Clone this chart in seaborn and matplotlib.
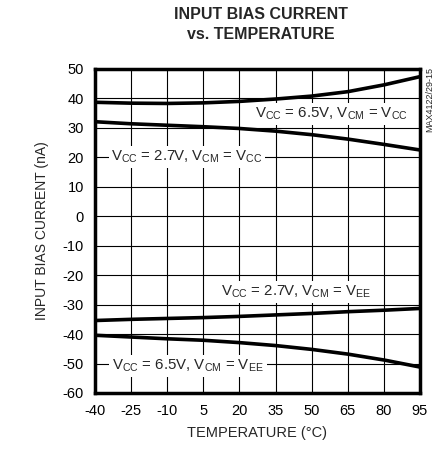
import pandas as pd
import matplotlib.pyplot as plt
import seaborn as sns

# data
temp = [-40, -25, -10, 5, 20, 35, 50, 65, 80, 95]
vcc65_vcm_vcc = [38.7, 38.4, 38.3, 38.5, 39.0, 39.8, 40.8, 42.3, 44.6, 47.4]
vcc27_vcm_vcc = [32.1, 31.4, 30.9, 30.4, 29.8, 28.9, 27.7, 26.2, 24.4, 22.5]
vcc27_vcm_vee = [-35.4, -35.0, -34.7, -34.4, -34.0, -33.5, -33.0, -32.4, -31.9, -31.3]
vcc65_vcm_vee = [-40.4, -41.0, -41.6, -42.1, -42.9, -43.9, -45.2, -46.8, -48.8, -51.2]

x_ticks = [-40, -25, -10, 5, 20, 35, 50, 65, 80, 95]
y_ticks = list(range(-60, 51, 10))

labels = {
    'a': r'$\mathregular{V_{CC}}$ = 6.5V, $\mathregular{V_{CM}}$ = $\mathregular{V_{CC}}$',
    'b': r'$\mathregular{V_{CC}}$ = 2.7V, $\mathregular{V_{CM}}$ = $\mathregular{V_{CC}}$',
    'c': r'$\mathregular{V_{CC}}$ = 2.7V, $\mathregular{V_{CM}}$ = $\mathregular{V_{EE}}$',
    'd': r'$\mathregular{V_{CC}}$ = 6.5V, $\mathregular{V_{CM}}$ = $\mathregular{V_{EE}}$',
}

df = pd.DataFrame({
    'temp': temp * 4,
    'ib': vcc65_vcm_vcc + vcc27_vcm_vcc + vcc27_vcm_vee + vcc65_vcm_vee,
    'curve': ['a'] * 10 + ['b'] * 10 + ['c'] * 10 + ['d'] * 10,
})

sns.set_style('white')
plt.rcParams['font.family'] = ['Liberation Sans', 'DejaVu Sans']
plt.rcParams['axes.unicode_minus'] = False
plt.rcParams['mathtext.fontset'] = 'custom'
plt.rcParams['mathtext.rm'] = 'Liberation Sans'

fig = plt.figure(figsize=(4.39, 4.53), dpi=100)
ax = fig.add_axes([0.2164, 0.1325, 0.7403, 0.7152])

sns.lineplot(data=df, x='temp', y='ib', units='curve', estimator=None,
             color='black', linewidth=2.6, ax=ax, legend=False)

ax.set_xlim(-40, 95)
ax.set_ylim(-60, 50)
ax.set_xticks(x_ticks)
ax.set_yticks(y_ticks)
ax.grid(True, color='black', linewidth=0.8)
ax.tick_params(length=0, labelsize=10.5, colors='black', pad=8)
for s in ax.spines.values():
    s.set_linewidth(2.5)
    s.set_color('black')

ax.set_xlabel('TEMPERATURE (°C)', fontsize=10.5, labelpad=6)
ax.set_ylabel('INPUT BIAS CURRENT (nA)', fontsize=10, labelpad=10)
fig.suptitle('INPUT BIAS CURRENT\nvs. TEMPERATURE', x=0.595, y=0.985,
             fontsize=11.5, fontweight='bold', linespacing=1.4)

box = dict(facecolor='white', edgecolor='none', pad=2)
ax.text(58, 34.7, labels['a'], fontsize=10.8, ha='center', va='center', bbox=box)
ax.text(-1.8, 20.1, labels['b'], fontsize=10.8, ha='center', va='center', bbox=box)
ax.text(43.4, -25.7, labels['c'], fontsize=10.8, ha='center', va='center', bbox=box)
ax.text(-1.4, -50.8, labels['d'], fontsize=10.8, ha='center', va='center', bbox=box)

fig.text(0.978, 0.78, 'MAX4122/29-15', rotation=90, fontsize=6.5,
         ha='center', va='center')

fig.savefig('out.png', dpi=100)
